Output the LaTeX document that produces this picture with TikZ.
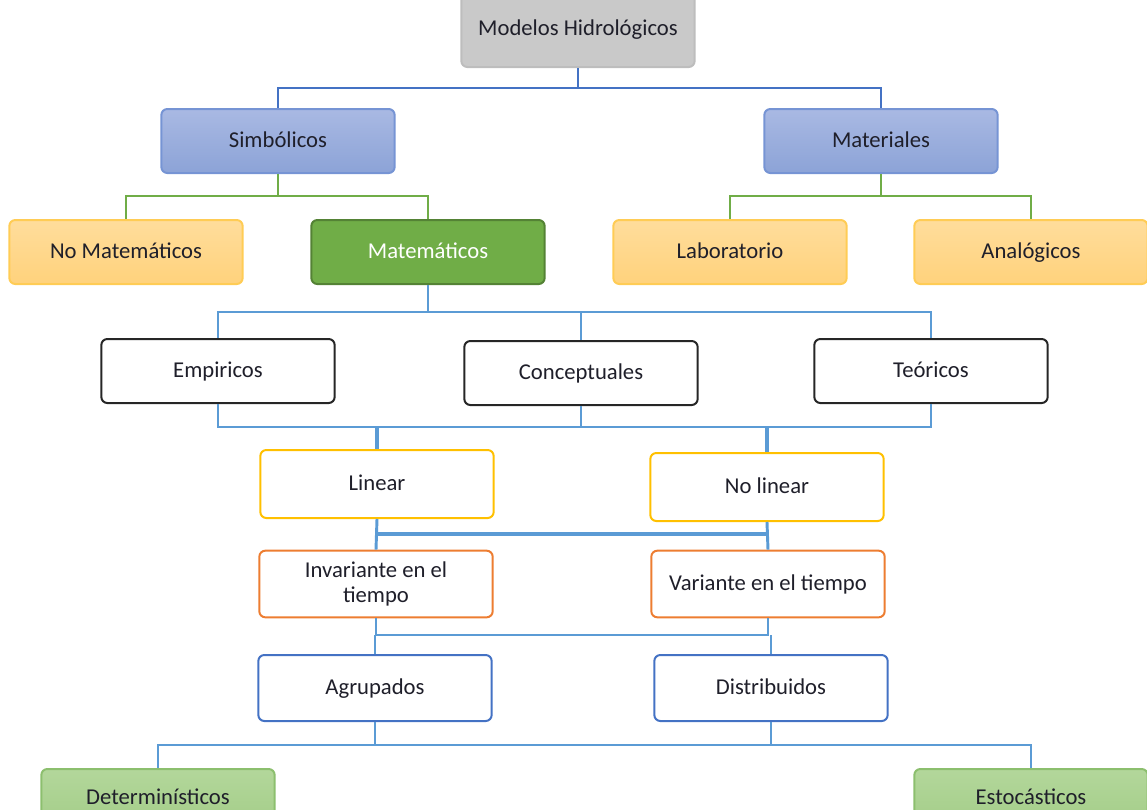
\documentclass[tikz,border=0pt]{standalone}
\usepackage{fontspec}
\setmainfont{Carlito}
\usetikzlibrary{positioning}
\definecolor{txtc}{HTML}{1F1F2A}
\definecolor{lnkdark}{HTML}{4472C4}
\definecolor{lnkblue}{HTML}{5B9BD5}
\definecolor{lnkgreen}{HTML}{70AD47}
\definecolor{grayfill}{HTML}{C9C9C9}
\definecolor{grayline}{HTML}{BDBDBD}
\definecolor{bluetop}{HTML}{A9B9E3}
\definecolor{bluebot}{HTML}{8CA3D7}
\definecolor{blueline}{HTML}{7694D4}
\definecolor{ambtop}{HTML}{FFDD9C}
\definecolor{ambbot}{HTML}{FFD27C}
\definecolor{ambline}{HTML}{FFCC55}
\definecolor{matfill}{HTML}{70AD47}
\definecolor{matline}{HTML}{548235}
\definecolor{ylwline}{HTML}{FFC000}
\definecolor{orgline}{HTML}{ED7D31}
\definecolor{bluebox}{HTML}{4472C4}
\definecolor{grntop}{HTML}{B3D79B}
\definecolor{grnbot}{HTML}{A2CC86}
\definecolor{grnline}{HTML}{8CBF6E}

\begin{document}
\begin{tikzpicture}[x=0.75pt, y=-0.75pt, font=\fontsize{17}{19}\selectfont,
  box/.style={rounded corners=4.5pt, line width=1.5pt, minimum width=175pt,
    minimum height=48pt, align=center, inner sep=2pt, text=txtc},
  oneline/.style={text height=13pt, text depth=3pt},
  rootbox/.style={box, oneline, fill=grayfill, draw=grayline, minimum height=63pt,
    text height=19pt, text depth=3pt},
  symbox/.style={box, oneline, top color=bluetop, bottom color=bluebot, draw=blueline},
  ambbox/.style={box, oneline, top color=ambtop, bottom color=ambbot, draw=ambline},
  matbox/.style={box, oneline, fill=matfill, draw=matline, text=white},
  kindbox/.style={box, oneline, fill=white, draw=black!85},
  linbox/.style={box, oneline, fill=white, draw=ylwline, minimum height=51pt},
  timebox/.style={box, fill=white, draw=orgline, minimum height=50pt},
  spacebox/.style={box, oneline, fill=white, draw=bluebox, minimum height=49.5pt},
  detbox/.style={box, oneline, top color=grntop, bottom color=grnbot, draw=grnline,
    text depth=8pt},
  toplink/.style={draw=lnkdark, line width=2.2pt},
  grnlink/.style={draw=lnkgreen, line width=2.2pt},
  link/.style={draw=lnkblue, line width=2.2pt}]
\useasboundingbox (0,0) rectangle (1147,810);

% nodes
\node[rootbox, anchor=south] (root) at (578,68) {Modelos Hidrológicos};
\node[symbox] (simb) at (278,141) {Simbólicos};
\node[symbox] (mater) at (881,141) {Materiales};
\node[ambbox] (nomat) at (126,252) {No Matemáticos};
\node[matbox] (matem) at (428,252) {Matemáticos};
\node[ambbox] (labo) at (730,252) {Laboratorio};
\node[ambbox] (analog) at (1031,252) {Analógicos};
\node[kindbox] (empi) at (218,371) {Empiricos};
\node[kindbox] (conc) at (581,373) {Conceptuales};
\node[kindbox] (teor) at (931,371) {Teóricos};
\node[linbox] (lin) at (377,484) {Linear};
\node[linbox] (nolin) at (767,487) {No linear};
\node[timebox] (inv) at (376,584) {Invariante en el\\tiempo};
\node[timebox] (var) at (768,584) {Variante en el tiempo};
\node[spacebox] (agr) at (375,688) {Agrupados};
\node[spacebox] (dist) at (771,688) {Distribuidos};
\node[detbox, anchor=north] (det) at (158,768) {Determinísticos};
\node[detbox, anchor=north] (est) at (1031,768) {Estocásticos};

% junctions
\coordinate (j0) at (578,88);
\coordinate (j1a) at (278,196);
\coordinate (j1b) at (881,196);
\coordinate (j2) at (428,312);
\coordinate (j3) at (581,427);
\coordinate (j4) at (572,534);
\coordinate (j5) at (572,635);
\coordinate (j6) at (572,745);

% connectors
\draw[toplink] (root.south) -- (j0) -| (simb.north);
\draw[toplink] (j0) -| (mater.north);
\draw[grnlink] (simb.south) -- (j1a) -| (nomat.north);
\draw[grnlink] (j1a) -| (matem.north);
\draw[grnlink] (mater.south) -- (j1b) -| (labo.north);
\draw[grnlink] (j1b) -| (analog.north);
\draw[link] (matem.south) -- (j2) -| (empi.north);
\draw[link] (j2) -| (conc.north);
\draw[link] (j2) -| (teor.north);
\draw[link] (empi.south) |- (j3);
\draw[link] (teor.south) |- (j3);
\draw[link] (conc.south) -- (j3);
\draw[link, line width=3.5pt] (lin.north) -- (lin.north |- j3);
\draw[link, line width=3.5pt] (nolin.north) -- (nolin.north |- j3);
\draw[link] (lin.south) -- (inv.north);
\draw[link] (nolin.south) -- (var.north);
\draw[link, line width=3pt] (lin.south |- j4) -- (nolin.south |- j4);
\draw[link] (inv.south) |- (j5) -| (var.south);
\draw[link] (agr.north) -- (agr.north |- j5);
\draw[link] (dist.north) -- (dist.north |- j5);
\draw[link] (agr.south) -- (agr.south |- j6);
\draw[link] (dist.south) -- (dist.south |- j6);
\draw[link] (det.north) |- (j6) -| (est.north);
\end{tikzpicture}
\end{document}
